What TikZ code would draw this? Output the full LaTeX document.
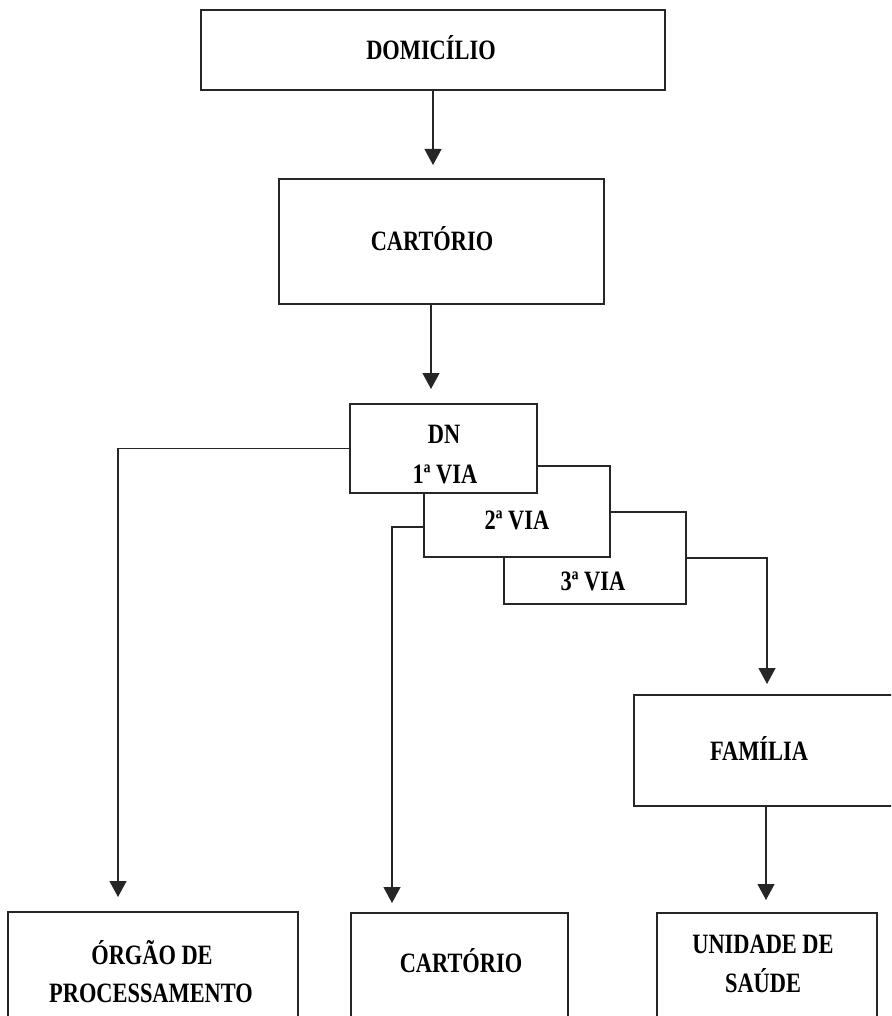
\documentclass[tikz,border=0pt]{standalone}
\usepackage{fontspec}
\setmainfont[FakeStretch=0.8]{Liberation Serif}
\usetikzlibrary{arrows.meta}
\begin{document}
\begin{tikzpicture}[x=1pt,y=-1pt,
  box/.style={draw=black!85, line width=1.3pt, fill=white, inner sep=0pt, outer sep=0pt, anchor=north west},
  lbl/.style={anchor=base, inner sep=0pt, font=\fontsize{28}{30}\selectfont\bfseries},
  arr/.style={draw=black!85, line width=1.2pt, -{Triangle[width=17pt,length=16pt]}},
  conn/.style={draw=black!85, line width=1.2pt}]
\useasboundingbox (0,0) rectangle (891,1016);
\clip (0,0) rectangle (891,1016);
% boxes
\node[box, minimum width=464pt, minimum height=80pt] (dom) at (201,10) {};
\node[box, minimum width=325pt, minimum height=125pt] (cart1) at (279,179) {};
\node[box, minimum width=182pt, minimum height=92pt] (v3) at (504,512) {};
\node[box, minimum width=186pt, minimum height=91pt] (v2) at (424,466) {};
\node[box, minimum width=187pt, minimum height=89pt] (dn) at (350,404) {};
\node[box, minimum width=300pt, minimum height=111pt] (fam) at (634,695) {};
\node[box, minimum width=290pt, minimum height=150pt] (org) at (8,912) {};
\node[box, minimum width=217pt, minimum height=150pt] (cart2) at (351,913) {};
\node[box, minimum width=220pt, minimum height=150pt] (uni) at (657,913) {};
% labels
\node[lbl] (tdom) at (431,60) {DOMICÍLIO};
\node[lbl] (tcart1) at (432,250) {CARTÓRIO};
\node[lbl] (tdn) at (444,443) {DN};
\node[lbl] (tv1) at (445,483) {1ª VIA};
\node[lbl] (tv2) at (517,529) {2ª VIA};
\node[lbl] (tv3) at (593,590) {3ª VIA};
\node[lbl] (tfam) at (759,760) {FAMÍLIA};
\node[lbl] (torg1) at (152,964) {ÓRGÃO DE};
\node[lbl] (torg2) at (151,1002) {PROCESSAMENTO};
\node[lbl] (tcart2) at (461,972) {CARTÓRIO};
\node[lbl] (tuni1) at (763,953) {UNIDADE DE};
\node[lbl] (tuni2) at (763,992) {SAÚDE};
% arrow ends
\coordinate (a1) at (433,165);
\coordinate (a2) at (431,389);
\coordinate (a3) at (118,897);
\coordinate (k4) at (392,527);
\coordinate (a4) at (392,903);
\coordinate (a5) at (767,684);
\coordinate (a6) at (766,900);
% connectors
\draw[arr] (a1 |- dom.south) -- (a1);
\draw[arr] (a2 |- cart1.south) -- (a2);
\draw[arr] (dn.west) -| (a3);
\draw[arr] (k4 -| v2.west) -- (k4) -- (a4);
\draw[arr] (v3.east) -| (a5);
\draw[arr] (a6 |- fam.south) -- (a6);
\end{tikzpicture}
\end{document}
